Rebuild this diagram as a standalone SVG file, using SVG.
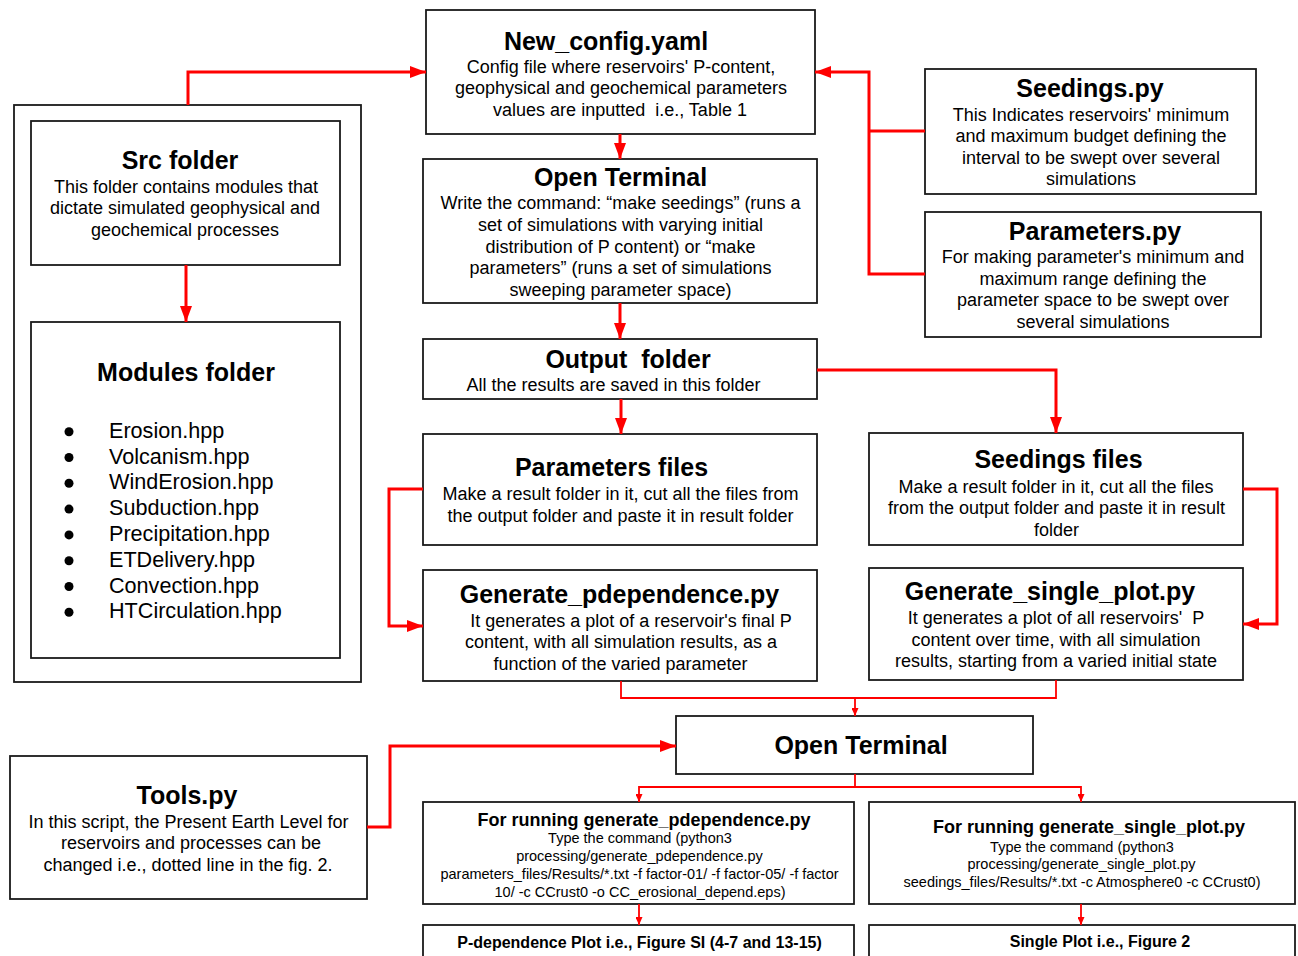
<svg xmlns="http://www.w3.org/2000/svg" width="1298" height="956" viewBox="0 0 1298 956">
<style>
.box{fill:#fff;stroke:#1a1a1a;stroke-width:1.8}
text{font-family:"Liberation Sans",Arial,sans-serif;fill:#000;text-anchor:middle}
.t{font-size:25px;font-weight:bold}
.b{font-size:18px}
.t2{font-size:18px;font-weight:bold}
.t3{font-size:16px;font-weight:bold}
.s{font-size:14.5px}
.li{font-size:21.6px;text-anchor:start}
.c{fill:none;stroke:#ff0000;stroke-width:3}
.cs{fill:none;stroke:#ff0000;stroke-width:1.8}
</style>
<defs>
<marker id="ab" markerUnits="userSpaceOnUse" markerWidth="16" markerHeight="12" refX="16" refY="6" orient="auto"><path d="M0,0 L16,6 L0,12 z" fill="#ff0000"/></marker>
<marker id="as" markerUnits="userSpaceOnUse" markerWidth="8" markerHeight="7" refX="8" refY="3.5" orient="auto"><path d="M0,0 L8,3.5 L0,7 z" fill="#ff0000"/></marker>
</defs>
<rect width="1298" height="956" fill="#fff"/>

<g id="src-container">
<rect class="box" x="14" y="105" width="347" height="577"/>
</g>
<g id="src-folder">
<rect class="box" x="31" y="121" width="309" height="144"/>
<text class="t" x="180" y="169">Src folder</text>
<text class="b" x="186" y="192.5">This folder contains modules that</text>
<text class="b" x="185" y="214.3">dictate simulated geophysical and</text>
<text class="b" x="185" y="236">geochemical processes</text>
</g>
<g id="modules-folder">
<rect class="box" x="31" y="322" width="309" height="336"/>
<text class="t" x="186" y="381">Modules folder</text>
<circle cx="69" cy="431.7" r="4.5"/><text class="li" x="109" y="437.7">Erosion.hpp</text>
<circle cx="69" cy="457.5" r="4.5"/><text class="li" x="109" y="463.5">Volcanism.hpp</text>
<circle cx="69" cy="483.3" r="4.5"/><text class="li" x="109" y="489.3">WindErosion.hpp</text>
<circle cx="69" cy="509.1" r="4.5"/><text class="li" x="109" y="515.1">Subduction.hpp</text>
<circle cx="69" cy="534.9" r="4.5"/><text class="li" x="109" y="540.9">Precipitation.hpp</text>
<circle cx="69" cy="560.7" r="4.5"/><text class="li" x="109" y="566.7">ETDelivery.hpp</text>
<circle cx="69" cy="586.5" r="4.5"/><text class="li" x="109" y="592.5">Convection.hpp</text>
<circle cx="69" cy="612.3" r="4.5"/><text class="li" x="109" y="618.3">HTCirculation.hpp</text>
</g>

<g id="new-config">
<rect class="box" x="426" y="10" width="389" height="124"/>
<text class="t" x="606" y="49.5">New_config.yaml</text>
<text class="b" x="621" y="72.5">Config file where reservoirs' P-content,</text>
<text class="b" x="621" y="94">geophysical and geochemical parameters</text>
<text class="b" x="620" y="115.7" xml:space="preserve">values are inputted  i.e., Table 1</text>
</g>
<g id="open-terminal-1">
<rect class="box" x="423" y="159" width="394" height="144"/>
<text class="t" x="620.5" y="186">Open Terminal</text>
<text class="b" x="620.5" y="209.3">Write the command: “make seedings” (runs a</text>
<text class="b" x="620.5" y="231">set of simulations with varying initial</text>
<text class="b" x="620.5" y="252.7">distribution of P content) or “make</text>
<text class="b" x="620.5" y="274.4">parameters” (runs a set of simulations</text>
<text class="b" x="620.5" y="296">sweeping parameter space)</text>
</g>
<g id="seedings-py">
<rect class="box" x="925" y="69" width="331" height="125"/>
<text class="t" x="1090" y="96.7">Seedings.py</text>
<text class="b" x="1091" y="120.7">This Indicates reservoirs' minimum</text>
<text class="b" x="1091" y="142.1">and maximum budget defining the</text>
<text class="b" x="1091" y="163.5">interval to be swept over several</text>
<text class="b" x="1091" y="184.9">simulations</text>
</g>
<g id="parameters-py">
<rect class="box" x="925" y="212" width="336" height="125"/>
<text class="t" x="1095" y="240">Parameters.py</text>
<text class="b" x="1093" y="263.3">For making parameter's minimum and</text>
<text class="b" x="1093" y="284.8">maximum range defining the</text>
<text class="b" x="1093" y="306.3">parameter space to be swept over</text>
<text class="b" x="1093" y="327.7">several simulations</text>
</g>
<g id="output-folder">
<rect class="box" x="423" y="339" width="394" height="60"/>
<text class="t" x="628" y="367.7" xml:space="preserve">Output  folder</text>
<text class="b" x="613.5" y="391">All the results are saved in this folder</text>
</g>
<g id="parameters-files">
<rect class="box" x="423" y="434" width="394" height="111"/>
<text class="t" x="611.5" y="476">Parameters files</text>
<text class="b" x="620.5" y="500">Make a result folder in it, cut all the files from</text>
<text class="b" x="620.5" y="521.7">the output folder and paste it in result folder</text>
</g>
<g id="generate-pdependence">
<rect class="box" x="423" y="570" width="394" height="111"/>
<text class="t" x="619.5" y="602.7">Generate_pdependence.py</text>
<text class="b" x="631" y="626.7">It generates a plot of a reservoir's final P</text>
<text class="b" x="621" y="648.3">content, with all simulation results, as a</text>
<text class="b" x="620.5" y="669.5">function of the varied parameter</text>
</g>
<g id="seedings-files">
<rect class="box" x="869" y="433" width="374" height="112"/>
<text class="t" x="1058.5" y="468.3">Seedings files</text>
<text class="b" x="1056" y="492.7">Make a result folder in it, cut all the files</text>
<text class="b" x="1056.5" y="514.3">from the output folder and paste it in result</text>
<text class="b" x="1056.5" y="535.8">folder</text>
</g>
<g id="generate-single-plot">
<rect class="box" x="869" y="568" width="374" height="112"/>
<text class="t" x="1050" y="600">Generate_single_plot.py</text>
<text class="b" x="1056" y="624" xml:space="preserve">It generates a plot of all reservoirs'  P</text>
<text class="b" x="1056" y="645.5">content over time, with all simulation</text>
<text class="b" x="1056" y="666.8">results, starting from a varied initial state</text>
</g>
<g id="open-terminal-2">
<rect class="box" x="676" y="716" width="357" height="58"/>
<text class="t" x="861" y="754">Open Terminal</text>
</g>
<g id="tools-py">
<rect class="box" x="10" y="756" width="357" height="143"/>
<text class="t" x="187" y="804">Tools.py</text>
<text class="b" x="188.5" y="827.7">In this script, the Present Earth Level for</text>
<text class="b" x="191" y="849.3">reservoirs and processes can be</text>
<text class="b" x="188" y="870.8">changed i.e., dotted line in the fig. 2.</text>
</g>
<g id="run-pdependence">
<rect class="box" x="423" y="802" width="431" height="102"/>
<text class="t2" x="644" y="825.7">For running generate_pdependence.py</text>
<text class="s" x="640" y="843.3">Type the command (python3</text>
<text class="s" x="639.5" y="861.1">processing/generate_pdependence.py</text>
<text class="s" x="639.5" y="878.9">parameters_files/Results/*.txt -f factor-01/ -f factor-05/ -f factor</text>
<text class="s" x="640" y="896.7">10/ -c CCrust0 -o CC_erosional_depend.eps)</text>
</g>
<g id="run-single-plot">
<rect class="box" x="869" y="802" width="426" height="102"/>
<text class="t2" x="1089" y="833.3">For running generate_single_plot.py</text>
<text class="s" x="1082" y="851.7">Type the command (python3</text>
<text class="s" x="1081.5" y="869.2">processing/generate_single_plot.py</text>
<text class="s" x="1082" y="886.7">seedings_files/Results/*.txt -c Atmosphere0 -c CCrust0)</text>
</g>
<g id="pdependence-plot">
<rect class="box" x="423" y="925" width="431" height="50"/>
<text class="t3" x="639.5" y="948.3">P-dependence Plot i.e., Figure SI (4-7 and 13-15)</text>
</g>
<g id="single-plot">
<rect class="box" x="869" y="925" width="426" height="50"/>
<text class="t3" x="1100" y="947.3">Single Plot i.e., Figure 2</text>
</g>

<g id="connectors">
<path class="c" d="M188,105 V72 H426" marker-end="url(#ab)"/>
<path class="c" d="M186,265 V322" marker-end="url(#ab)"/>
<path class="c" d="M925,131 H869"/>
<path class="c" d="M925,274 H869 V72 H815" marker-end="url(#ab)"/>
<path class="c" d="M620,134 V159" marker-end="url(#ab)"/>
<path class="c" d="M620,303 V339" marker-end="url(#ab)"/>
<path class="c" d="M621,399 V434" marker-end="url(#ab)"/>
<path class="c" d="M817,370 H1056 V433" marker-end="url(#ab)"/>
<path class="c" d="M423,489 H389 V626 H423" marker-end="url(#ab)"/>
<path class="c" d="M1243,489 H1277 V624 H1243" marker-end="url(#ab)"/>
<path class="c" d="M367,827 H390 V746 H676" marker-end="url(#ab)"/>
<path class="cs" d="M621,681 V698 H1056 V680"/>
<path class="cs" d="M855,698 V716" marker-end="url(#as)"/>
<path class="cs" d="M855,774 V787 H639 V802" marker-end="url(#as)"/>
<path class="cs" d="M855,787 H1081 V802" marker-end="url(#as)"/>
<path class="cs" d="M639,904 V925" marker-end="url(#as)"/>
<path class="cs" d="M1081,904 V925" marker-end="url(#as)"/>
</g>
</svg>
